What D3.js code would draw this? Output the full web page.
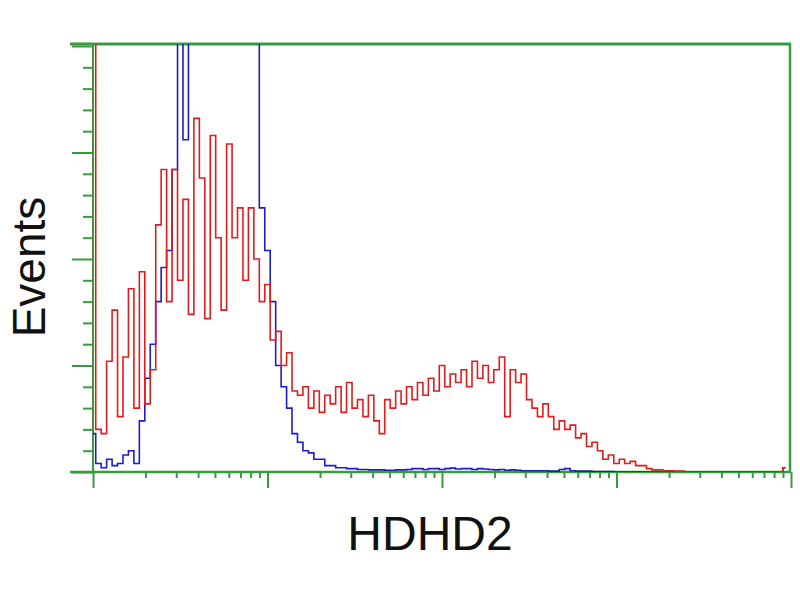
<!DOCTYPE html>
<html>
<head>
<meta charset="utf-8">
<script src="https://cdn.jsdelivr.net/npm/d3@7"></script>
<style>
  html, body { margin: 0; padding: 0; background: #fff; }
  svg { display: block; }
  text { font-family: "Liberation Sans", Arial, sans-serif; fill: #111; }
</style>
</head>
<body>
<svg id="chart" width="800" height="600"></svg>
<script>
// ---- data (128 log channels over 4 decades, event counts in %-of-scale) ----
const channelCount = 128;
const decades = [1, 10, 100, 1000, 10000];
const yMajorTicks = [0, 25, 50, 75, 100];

const redCounts = [
  120, 10, 9, 26, 38, 13, 27, 43, 15, 47,
  16, 24, 58, 71, 40, 71, 45, 64, 37, 83,
  69, 36, 79, 55, 38, 77, 55, 62, 45, 62,
  50, 40, 44, 31, 33, 25, 28, 19, 18, 20,
  15, 19, 14, 18, 16, 20, 14, 21, 15, 17,
  13, 18, 12, 9, 17, 15, 19, 16, 20, 17,
  21, 18, 22, 19, 25, 20, 23, 21, 24, 20,
  26, 22, 25, 21, 24, 27, 13, 24, 21, 23,
  17, 15, 13, 16, 13, 10, 12, 10, 11, 8,
  9, 6, 7, 5, 3, 4, 2, 3, 2, 2.5,
  1.5, 1.5, 0.8, 0.5, 0.5, 0.3, 0.3, 0.2, 0.2, 0,
  0, 0, 0, 0, 0, 0, 0, 0, 0, 0,
  0, 0, 0, 0, 0, 0, 0, 1
];

const blueCounts = [
  9, 2, 1, 3, 1.5, 2, 4, 5, 2, 12,
  22, 30, 40, 48, 52, 71, 110, 78, 110, 110,
  110, 110, 110, 110, 110, 110, 110, 110, 110, 110,
  110, 62, 52, 40, 25, 20, 15, 9, 7, 5,
  4.5, 3, 3, 1.5, 1.5, 1, 1, 0.8, 0.8, 0.6,
  0.6, 0.5, 0.5, 0.5, 0.4, 0.4, 0.5, 0.5, 0.6, 0.8,
  0.8, 0.6, 0.8, 0.8, 0.6, 0.8, 0.9, 0.7, 0.8, 0.8,
  0.6, 0.8, 0.7, 0.6, 0.5, 0.6, 0.4, 0.5, 0.4, 0.3,
  0.3, 0.3, 0.3, 0.3, 0.2, 0.2, 0.6, 0.8, 0.3, 0.2,
  0.2, 0.2, 0.1, 0.1, 0.1, 0.1, 0, 0, 0, 0,
  0, 0, 0, 0, 0, 0, 0, 0, 0, 0,
  0, 0, 0, 0, 0, 0, 0, 0, 0, 0,
  0, 0, 0, 0, 0, 0, 0, 1
];

const xLabel = "HDHD2";
const yLabel = "Events";

// ---- layout ----
const svg = d3.select("#chart");
const plotL = 93, plotR = 791, plotT = 46, plotB = 472;
const green = "#3a9a40";

const x = d3.scaleLog().domain([1, 10000]).range([plotL, plotR]);
const y = d3.scaleLinear().domain([0, 100]).range([plotB, plotT]);
const chanValue = i => Math.pow(10, 4 * i / channelCount);

svg.append("defs").append("clipPath").attr("id", "plotClip")
  .append("rect").attr("x", plotL - 2).attr("y", plotT - 2)
  .attr("width", plotR - plotL + 2).attr("height", plotB - plotT + 2);

// y ticks
const yMinor = d3.range(0, 101, 5).filter(v => !yMajorTicks.includes(v));
const yAxisMinor = d3.axisLeft(y).tickValues(yMinor).tickSize(10).tickFormat("");
const yAxisMajor = d3.axisLeft(y).tickValues(yMajorTicks).tickSize(21).tickFormat("");
[yAxisMinor, yAxisMajor].forEach(ax => {
  const g = svg.append("g").attr("transform", `translate(${plotL},0)`).call(ax);
  g.select(".domain").remove();
  g.selectAll("line").attr("stroke", green).attr("stroke-width", 2);
});

// x ticks
const xMinor = [];
decades.slice(0, -1).forEach(d => { for (let k = 2; k <= 9; k++) xMinor.push(d * k); });
const xAxisMinor = d3.axisBottom(x).tickValues(xMinor).tickSize(6).tickFormat("");
const xAxisMajor = d3.axisBottom(x).tickValues(decades).tickSize(16).tickFormat("");
[xAxisMinor, xAxisMajor].forEach(ax => {
  const g = svg.append("g").attr("transform", `translate(0,${plotB})`).call(ax);
  g.select(".domain").remove();
  g.selectAll("line").attr("stroke", green).attr("stroke-width", 2);
});

// frame
svg.append("line").attr("x1", 70).attr("x2", plotR).attr("y1", 44).attr("y2", 44)
  .attr("stroke", green).attr("stroke-width", 3);
svg.append("line").attr("x1", plotR - 1).attr("x2", plotR - 1).attr("y1", 44).attr("y2", plotB)
  .attr("stroke", green).attr("stroke-width", 2.5);
svg.append("line").attr("x1", 70).attr("x2", plotR).attr("y1", plotB).attr("y2", plotB)
  .attr("stroke", green).attr("stroke-width", 2.5);
svg.append("line").attr("x1", plotL).attr("x2", plotL).attr("y1", 44).attr("y2", plotB)
  .attr("stroke", green).attr("stroke-width", 2);

// histograms
const line = d3.line()
  .x((d, i) => x(chanValue(i)))
  .y(d => y(d))
  .curve(d3.curveStep);

const plot = svg.append("g").attr("clip-path", "url(#plotClip)");
plot.append("path").datum(blueCounts)
  .attr("d", line).attr("fill", "none")
  .attr("stroke", "#1c1ccc").attr("stroke-width", 1.6);
plot.append("path").datum(redCounts)
  .attr("d", line).attr("fill", "none")
  .attr("stroke", "#e01c1c").attr("stroke-width", 1.6);

// labels
svg.append("text").attr("x", 430).attr("y", 550)
  .attr("text-anchor", "middle").attr("font-size", 48).text(xLabel);
svg.append("text")
  .attr("transform", "translate(45,267) rotate(-90)")
  .attr("text-anchor", "middle").attr("font-size", 46).text(yLabel);
</script>
</body>
</html>
